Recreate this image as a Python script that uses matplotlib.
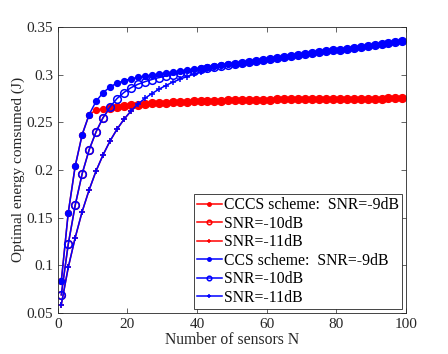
import matplotlib
matplotlib.use('Agg')
import matplotlib.pyplot as plt

plt.rcParams['font.family'] = ['Liberation Serif', 'DejaVu Serif']

# number of sensors (odd values 1..99)
sensors = [1, 3, 5, 7, 9, 11, 13, 15, 17, 19, 21, 23, 25, 27, 29, 31, 33, 35, 37, 39,
           41, 43, 45, 47, 49, 51, 53, 55, 57, 59, 61, 63, 65, 67, 69, 71, 73, 75, 77, 79,
           81, 83, 85, 87, 89, 91, 93, 95, 97, 99]

# CCCS scheme (red)
cccs_9 = [0.083, 0.155, 0.204, 0.237, 0.258, 0.2628, 0.2641, 0.2652, 0.2662, 0.2671,
          0.2679, 0.2686, 0.2692, 0.2697, 0.2702, 0.2706, 0.2710, 0.2713, 0.2716, 0.2719,
          0.2722, 0.2724, 0.2726, 0.2728, 0.2730, 0.2732, 0.2733, 0.2735, 0.2736, 0.2737,
          0.2738, 0.2739, 0.2740, 0.2741, 0.2742, 0.2743, 0.2744, 0.2744, 0.2745, 0.2746,
          0.2746, 0.2747, 0.2747, 0.2748, 0.2748, 0.2749, 0.2749, 0.2750, 0.2750, 0.2750]
cccs_10 = [0.069, 0.122, 0.163, 0.196, 0.221, 0.240, 0.2548, 0.2652, 0.2662, 0.2671,
           0.2679, 0.2686, 0.2692, 0.2697, 0.2702, 0.2706, 0.2710, 0.2713, 0.2716, 0.2719,
           0.2722, 0.2724, 0.2726, 0.2728, 0.2730, 0.2732, 0.2733, 0.2735, 0.2736, 0.2737,
           0.2738, 0.2739, 0.2740, 0.2741, 0.2742, 0.2743, 0.2744, 0.2744, 0.2745, 0.2746,
           0.2746, 0.2747, 0.2747, 0.2748, 0.2748, 0.2749, 0.2749, 0.2750, 0.2750, 0.2750]
cccs_11 = [0.0586, 0.0977, 0.129, 0.1563, 0.179, 0.199, 0.2157, 0.2303, 0.2426, 0.253,
           0.2617, 0.2686, 0.2692, 0.2697, 0.2702, 0.2706, 0.2710, 0.2713, 0.2716, 0.2719,
           0.2722, 0.2724, 0.2726, 0.2728, 0.2730, 0.2732, 0.2733, 0.2735, 0.2736, 0.2737,
           0.2738, 0.2739, 0.2740, 0.2741, 0.2742, 0.2743, 0.2744, 0.2744, 0.2745, 0.2746,
           0.2746, 0.2747, 0.2747, 0.2748, 0.2748, 0.2749, 0.2749, 0.2750, 0.2750, 0.2750]

# CCS scheme (blue)
ccs_9 = [0.083, 0.155, 0.204, 0.237, 0.258, 0.272, 0.281, 0.287, 0.291, 0.2935,
         0.2955, 0.297, 0.2983, 0.2995, 0.3007, 0.3018, 0.3028, 0.3038, 0.3048, 0.3058,
         0.3067, 0.3077, 0.3087, 0.3097, 0.3107, 0.3116, 0.3126, 0.3136, 0.3146, 0.3156,
         0.3165, 0.3175, 0.3185, 0.3195, 0.3205, 0.3214, 0.3224, 0.3234, 0.3244, 0.3254,
         0.3263, 0.3273, 0.3283, 0.3293, 0.3303, 0.3312, 0.3322, 0.3332, 0.3342, 0.3350]
ccs_10 = [0.069, 0.122, 0.163, 0.196, 0.221, 0.240, 0.2548, 0.266, 0.2748, 0.2812,
          0.2862, 0.2898, 0.2925, 0.2948, 0.2968, 0.2985, 0.3000, 0.3013, 0.3025, 0.3037,
          0.3058, 0.3070, 0.3082, 0.3093, 0.3104, 0.3114, 0.3124, 0.3136, 0.3146, 0.3156,
          0.3165, 0.3175, 0.3185, 0.3195, 0.3205, 0.3214, 0.3224, 0.3234, 0.3244, 0.3254,
          0.3263, 0.3273, 0.3283, 0.3293, 0.3303, 0.3312, 0.3322, 0.3332, 0.3342, 0.3350]
ccs_11 = [0.0586, 0.0977, 0.129, 0.1563, 0.179, 0.199, 0.2157, 0.2303, 0.2426, 0.253,
          0.2617, 0.269, 0.275, 0.280, 0.2845, 0.2885, 0.2920, 0.2950, 0.2978, 0.3003,
          0.3025, 0.3045, 0.3065, 0.3082, 0.3098, 0.3110, 0.3122, 0.3133, 0.3144, 0.3155,
          0.3165, 0.3175, 0.3185, 0.3195, 0.3205, 0.3214, 0.3224, 0.3234, 0.3244, 0.3254,
          0.3263, 0.3273, 0.3283, 0.3293, 0.3303, 0.3312, 0.3322, 0.3332, 0.3342, 0.3350]

labels = ['CCCS scheme:  SNR=-9dB', 'SNR=-10dB', 'SNR=-11dB',
          'CCS scheme:  SNR=-9dB', 'SNR=-10dB', 'SNR=-11dB']

fig = plt.figure(figsize=(4.48, 3.54), dpi=100)
ax = fig.add_axes([0.129, 0.116, 0.777, 0.808])

red = (1, 0, 0)
blue = (0, 0, 1)
lw = 1.1
ax.plot(sensors, cccs_9, '-o', color=red, lw=lw, ms=4.2, label=labels[0])
ax.plot(sensors, cccs_10, '-o', color=red, lw=lw, ms=5.5, mfc='none', mew=1.1, label=labels[1])
ax.plot(sensors, cccs_11, '-+', color=red, lw=lw, ms=5, mew=1.1, label=labels[2])
ax.plot(sensors, ccs_9, '-o', color=blue, lw=lw, ms=4.2, label=labels[3])
ax.plot(sensors, ccs_10, '-o', color=blue, lw=lw, ms=5.5, mfc='none', mew=1.1, label=labels[4])
ax.plot(sensors, ccs_11, '-+', color=blue, lw=lw, ms=5, mew=1.1, label=labels[5])

ax.set_xlim(0, 100)
ax.set_ylim(0.05, 0.35)
ax.set_xticks([0, 20, 40, 60, 80, 100])
ax.set_yticks([0.05, 0.1, 0.15, 0.2, 0.25, 0.3, 0.35])
ax.set_yticklabels(['0.05', '0.1', '0.15', '0.2', '0.25', '0.3', '0.35'])
ax.tick_params(direction='in', top=True, right=True, length=3.5, width=0.5,
               labelsize=11, colors='#262626')
for sp in ax.spines.values():
    sp.set_linewidth(0.6)
    sp.set_color('#262626')

ax.set_xlabel('Number of sensors N', fontsize=11.3, color='#262626', labelpad=1)
ax.set_ylabel('Optimal energy comsumed (J)', fontsize=11, color='#262626', labelpad=1)

leg = ax.legend(loc='lower right', fontsize=11.3, fancybox=False, framealpha=1,
                edgecolor='#262626', handlelength=1.6, handletextpad=0.12,
                labelspacing=0.16, borderpad=0.2, borderaxespad=0.25,
                markerscale=0.6)
leg.get_frame().set_linewidth(0.6)

fig.savefig('out.png', dpi=100)
